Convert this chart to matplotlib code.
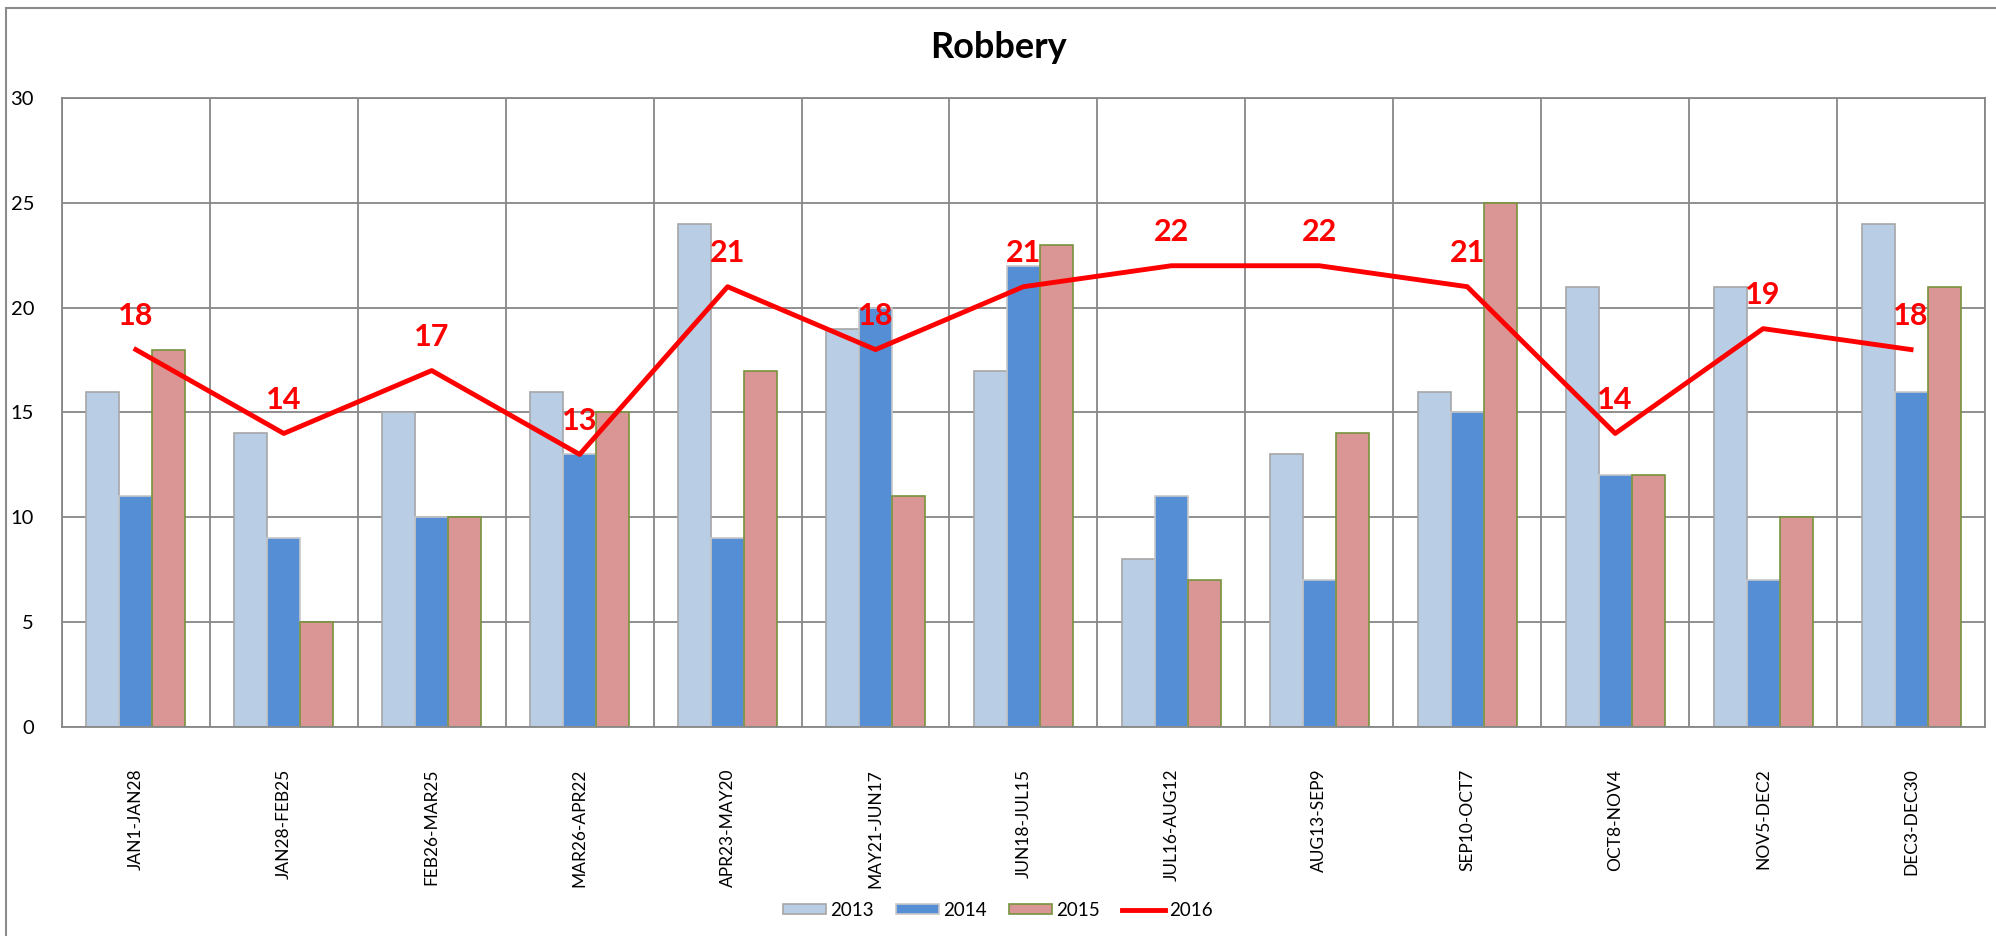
import matplotlib
matplotlib.use("Agg")
import matplotlib.pyplot as plt
from matplotlib.patches import Rectangle
import numpy as np

plt.rcParams['font.family'] = ['Lato', 'DejaVu Sans']

periods = ["JAN1-JAN28", "JAN28-FEB25", "FEB26-MAR25", "MAR26-APR22", "APR23-MAY20",
           "MAY21-JUN17", "JUN18-JUL15", "JUL16-AUG12", "AUG13-SEP9", "SEP10-OCT7",
           "OCT8-NOV4", "NOV5-DEC2", "DEC3-DEC30"]
y2013 = [16, 14, 15, 16, 24, 19, 17, 8, 13, 16, 21, 21, 24]
y2014 = [11, 9, 10, 13, 9, 20, 22, 11, 7, 15, 12, 7, 16]
y2015 = [18, 5, 10, 15, 17, 11, 23, 7, 14, 25, 12, 10, 21]
y2016 = [18, 14, 17, 13, 21, 18, 21, 22, 22, 21, 14, 19, 18]

fig = plt.figure(figsize=(19.96, 9.36), dpi=100)
ax = fig.add_axes([0.031, 0.2233, 0.9635, 0.672])

# outer chart border (cropped on right/bottom)
fig.patches.append(Rectangle((6/1996, -0.1), 1.2, 1 - 8/936 + 0.1, transform=fig.transFigure,
                             fill=False, edgecolor='#8c8c8c', linewidth=1.5, zorder=0))

x = np.arange(len(periods))
w = 0.223
b1 = ax.bar(x - w, y2013, w, color='#B9CDE5', edgecolor='#A6A6A6', linewidth=1.2, label='2013', zorder=2)
b2 = ax.bar(x, y2014, w, color='#558ED5', edgecolor='#C8C8C8', linewidth=1.2, label='2014', zorder=2)
b3 = ax.bar(x + w, y2015, w, color='#D99694', edgecolor='#77933C', linewidth=1.2, label='2015', zorder=2)
l4, = ax.plot(x, y2016, color='#FF0000', linewidth=3.5, label='2016', zorder=3)

for xi, v in zip(x, y2016):
    ax.annotate(str(v), (xi, v), xytext=(0, 14), textcoords='offset points',
                ha='center', va='bottom', color='#FF0000', fontsize=22, fontweight='bold', zorder=4)

ax.set_xlim(-0.5, len(periods) - 0.5)
ax.set_ylim(0, 30)
ax.set_yticks(range(0, 31, 5))
ax.set_xticks(x)
ax.set_xticklabels(periods, rotation=90, fontsize=12.5)
ax.tick_params(axis='x', length=0, pad=30)
ax.tick_params(axis='y', length=0, pad=20, labelsize=14.5)

ax.yaxis.grid(True, color='#878787', linewidth=1.3, zorder=1)
ax.set_xticks(np.arange(-0.5, len(periods)), minor=True)
ax.xaxis.grid(True, which='minor', color='#878787', linewidth=1.3, zorder=1)
ax.tick_params(axis='x', which='minor', length=0)
ax.set_axisbelow(True)
for s in ax.spines.values():
    s.set_color('#878787')
    s.set_linewidth(1.3)

fig.text(0.5, 1 - 48/936, 'Robbery', ha='center', va='center', fontsize=26, fontweight='bold')

fig.legend([b1, b2, b3, l4], ['2013', '2014', '2015', '2016'],
           loc='center', bbox_to_anchor=(0.5, 1 - 910/936), ncol=4, frameon=False,
           fontsize=13.5, handlelength=2.3, handleheight=0.45, columnspacing=1.2, handletextpad=0.2)

fig.savefig('out.png', dpi=100)
